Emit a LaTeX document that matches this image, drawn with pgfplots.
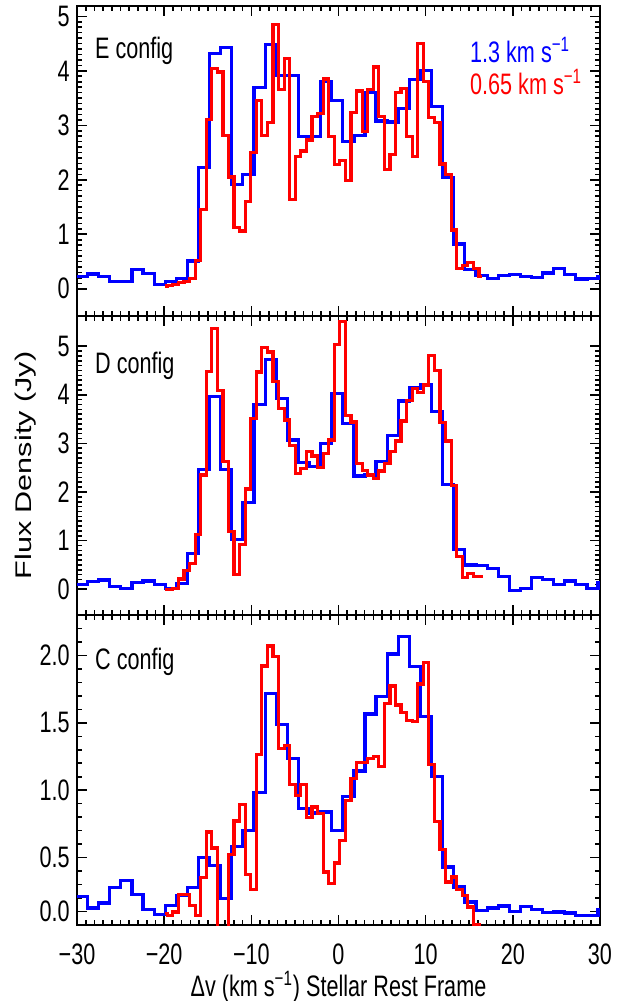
\documentclass[border=0pt]{standalone}
\usepackage{fontspec}
\setmainfont{Liberation Sans}[FakeStretch=0.73]
\newfontfamily\ylabfont{Liberation Sans}
\usepackage{graphicx}
\usepackage{pgfplots}
\usepackage{pgfplotstable}
\pgfplotsset{compat=1.18}
\definecolor{pblue}{RGB}{0,0,255}
\definecolor{pred}{RGB}{255,0,0}
\newcommand\bigf{\fontsize{14.8}{17}\selectfont}

% blue: 1.3 km/s channels, left bin edges; columns = E, D, C config
\pgfplotstableread{
v      top   mid   bot
-31.34 0.23  0.09  0.212
-30.07 0.23  0.09  0.212
-28.79 0.27  0.16  0.126
-27.52 0.23  0.19  0.163
-26.25 0.13  0.05  0.28
-24.97 0.13  0.02  0.33
-23.70 0.36  0.14  0.227
-22.43 0.28  0.17  0.116
-21.15 0.08  0.09  0.079
-19.88 0.14  0.01  0.146
-18.61 0.19  0.12  0.22
-17.33 0.51  0.74  0.28
-16.06 2.22  2.46  0.50
-14.79 4.32  3.96  0.443
-13.51 4.43  2.46  0.195
-12.24 1.92  1.03  0.584
-10.97 2.09  1.79  0.703
-9.69  3.70  3.80  0.983
-8.42  4.49  4.73  1.718
-7.15  3.91  3.92  1.488
-5.87  3.91  3.07  1.235
-4.60  2.79  2.61  0.864
-3.33  2.79  2.52  0.831
-2.05  3.80  3.00  0.839
-0.78  3.46  4.02  0.703
0.49   2.70  3.41  0.955
1.77   2.82  2.33  1.143
3.04   3.60  2.35  1.565
4.31   3.08  2.62  1.698
5.59   3.06  3.17  2.01
6.86   3.31  3.87  2.139
8.13   3.84  4.14  1.916
9.41   4.01  4.21  1.545
10.68  3.34  3.66  1.104
11.95  2.04  2.16  0.43
13.23  0.82  0.82  0.282
14.50  0.36  0.50  0.17
15.77  0.25  0.49  0.108
17.05  0.19  0.43  0.126
18.32  0.24  0.26  0.141
19.59  0.26  -0.03 0.101
20.87  0.22  0.02  0.138
22.14  0.21  0.24  0.116
23.41  0.29  0.20  0.091
24.69  0.37  0.10  0.096
25.96  0.26  0.17  0.089
27.23  0.18  0.09  0.071
28.51  0.19  0.02  0.071
29.78  0.23  0.14  0.114
31.05  0.23  0.14  0.114
}\bluetab

% red: 0.65 km/s channels
\pgfplotstableread{
v      top   mid   bot
-19.90 0.05  0.00  0.084
-19.64 0.06  0.00  0.071
-19.00 0.08  0.02  0.096
-18.36 0.11  0.21  0.227
-17.73 0.14  0.38  0.227
-17.09 0.19  0.53  0.146
-16.45 0.52  1.12  0.071
-15.81 1.46  2.35  0.351
-15.17 3.11  4.48  0.69
-14.53 4.04  5.37  0.571
-13.89 3.98  4.09  -0.4
-13.26 2.81  2.62  -0.2
-12.62 2.05  1.18  0.525
-11.98 1.12  0.31  0.772
-11.34 1.06  0.92  0.896
-10.70 1.60  2.06  0.376
-10.06 2.50  3.51  0.262
-9.42  3.46  4.47  1.265
-8.79  2.82  4.98  1.921
-8.15  3.05  4.88  2.07
-7.51  4.85  4.28  1.99
-6.87  3.66  3.72  1.31
-6.23  4.23  3.48  1.334
-5.59  1.64  2.96  1.045
-4.95  2.43  2.38  0.963
-4.32  2.53  2.48  1.045
-3.68  2.73  2.83  0.797
-3.04  3.16  2.74  0.876
-2.40  3.22  2.51  0.827
-1.76  3.85  2.79  0.393
-1.12  2.80  3.07  0.307
-0.48  2.28  5.03  0.46
0.16   2.36  5.50  0.629
0.79   1.99  3.57  0.926
1.43   3.23  3.44  1.087
2.07   3.63  2.59  1.203
2.71   2.89  2.44  1.203
3.35   3.66  2.35  1.235
3.99   4.07  2.28  1.253
4.63   3.16  2.43  1.178
5.26   2.19  2.59  1.644
5.90   2.47  2.83  1.773
6.54   3.60  3.05  1.632
7.18   3.68  3.46  1.574
7.82   2.79  3.89  1.52
8.46   2.43  4.13  1.508
9.10   4.50  4.05  1.788
9.73   3.81  4.20  1.946
10.37  3.14  4.80  1.191
11.01  3.05  4.50  0.765
11.65  2.29  3.43  0.559
12.29  2.09  3.05  0.319
12.93  1.08  2.14  0.356
13.57  0.37  0.67  0.262
14.21  0.43  0.24  0.22
14.84  0.48  0.33  0.133
15.48  0.37  0.26  0.0
16.12  0.23  0.26  -0.1
16.44  0.23  0.30  -0.1
}\redtab

\tikzset{lab/.style={anchor=west, inner sep=0pt, font=\bigf}}

\pgfplotsset{
  panel/.style={
    scale only axis, width=261.5pt,
    xmin=-30, xmax=30,
    xtick={-30,-20,...,30}, minor x tick num=9,
    xticklabels={},
    axis line style={line width=1pt},
    tick style={line width=0.8pt, black},
    tick align=inside,
    major tick length=5pt, minor tick length=2.5pt,
    tick label style={font=\bigf},
    yticklabel style={anchor=east, inner sep=0pt, xshift=-3.5pt},
    anchor=south west,
  },
  bl/.style={const plot, pblue, line width=1.6pt},
  rd/.style={const plot, pred, line width=1.6pt},
}

\begin{document}
\begin{tikzpicture}
\path[use as bounding box] (0,0) rectangle (315.5pt,500.5pt);

% E config
\begin{axis}[panel, at={(38.5pt,342.5pt)}, height=155pt,
    ymin=-0.50, ymax=5.19,
    ytick={0,1,2,3,4,5}, yticklabels={0,1,2,3,4,5}, minor y tick num=9]
\addplot[bl] table[x=v, y=top] {\bluetab};
\addplot[rd] table[x=v, y=top] {\redtab};
\node[lab] at (rel axis cs:0.034,0.855) {E config};
\node[lab, text=pblue] at (rel axis cs:0.751,0.858) {1.3 km s\textsuperscript{−1}};
\node[lab, text=pred] at (rel axis cs:0.751,0.755) {0.65 km s\textsuperscript{−1}};
\end{axis}

% D config
\begin{axis}[panel, at={(38.5pt,193pt)}, height=149.5pt,
    ymin=-0.53, ymax=5.62,
    ytick={0,1,2,3,4,5}, yticklabels={0,1,2,3,4,5}, minor y tick num=9,
    ylabel={\scalebox{1}[0.74]{\ylabfont\fontsize{15.3}{18}\selectfont Flux Density (Jy)}},
    every axis y label/.style={at={(axis description cs:-0.099,0.5)}, rotate=90, anchor=center}]
\addplot[bl] table[x=v, y=mid] {\bluetab};
\addplot[rd] table[x=v, y=mid] {\redtab};
\node[lab] at (rel axis cs:0.034,0.833) {D config};
\end{axis}

% C config
\begin{axis}[panel, at={(38.5pt,38pt)}, height=155pt,
    ymin=0, ymax=2.30,
    ytick={0.1,0.5,1,1.5,2}, yticklabels={0.0,0.5,1.0,1.5,2.0},
    minor ytick={0.2,0.3,0.4,0.6,0.7,0.8,0.9,1.1,1.2,1.3,1.4,1.6,1.7,1.8,1.9,2.1,2.2},
    xticklabels={−30,−20,−10,0,10,20,30},
    xticklabel style={anchor=north, inner sep=0pt, yshift=-9pt},
    xlabel={Δv (km s\textsuperscript{−1}) Stellar Rest Frame},
    every axis x label/.style={at={(axis description cs:0.5,0)}, anchor=center, yshift=-31pt, font=\bigf}]
\addplot[bl] table[x=v, y=bot] {\bluetab};
\addplot[rd] table[x=v, y=bot] {\redtab};
\node[lab] at (rel axis cs:0.034,0.848) {C config};
\end{axis}
\end{tikzpicture}
\end{document}
